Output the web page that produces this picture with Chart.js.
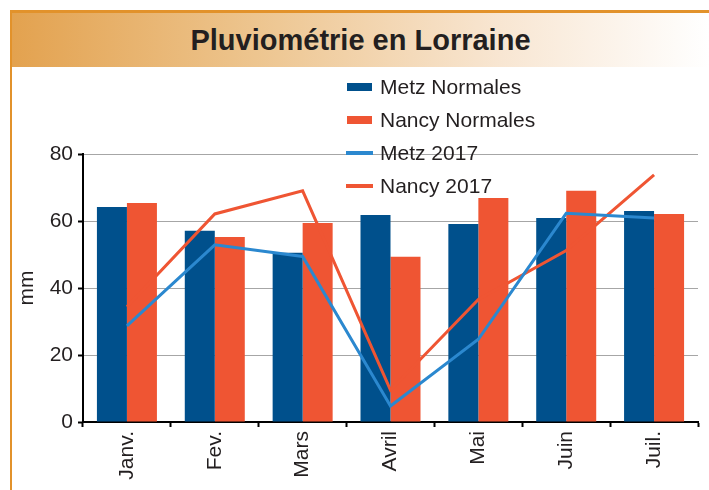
<!DOCTYPE html>
<html>
<head>
<meta charset="utf-8">
<script src="https://cdn.jsdelivr.net/npm/chart.js@4"></script>
<style>
  html, body { margin: 0; padding: 0; background: #fff; width: 709px; height: 490px; overflow: hidden; }
  #frame { position: absolute; left: 10px; top: 10px; width: 699px; height: 480px;
           border-top: 3px solid #E2922B; border-left: 2px solid #E2922B; box-sizing: border-box; }
  #title { position: absolute; left: 12px; top: 13px; width: 697px; height: 54px;
           background: linear-gradient(to right, #E3A24F 0%, #EDC58F 35%, #F8E6D2 70%, #FFFFFF 100%);
           font-family: "Liberation Sans", Arial, sans-serif; font-weight: bold; font-size: 29px;
           color: #231F20; text-align: center; line-height: 54px; }
  #c { position: absolute; left: 0; top: 0; }
</style>
</head>
<body>
<div id="frame"></div>
<div id="title">Pluviométrie en Lorraine</div>
<canvas id="c" width="709" height="490"></canvas>
<script>
const categories = ['Janv.', 'Fev.', 'Mars', 'Avril', 'Mai', 'Juin', 'Juil.'];
const metzNormales  = [64.2, 57.1, 50.5, 61.8, 59.1, 60.9, 63.0];
const nancyNormales = [65.4, 55.2, 59.4, 49.3, 66.9, 69.0, 62.1];
const metz2017      = [28.7, 52.9, 49.4, 4.8, 24.7, 62.3, 60.9];
const nancy2017     = [34.4, 62.1, 69.0, 9.5, 36.6, 51.2, 73.8];
const yTicks = [0, 20, 40, 60, 80];

const C_METZ = '#00508C', C_NANCY = '#EF5533', C_METZ_L = '#2B88CF', C_NANCY_L = '#EF5533';
const TXT = '#231F20';
const FONT = 'Liberation Sans, Arial, sans-serif';

const legendPlugin = {
  id: 'customLegend',
  afterDraw(chart) {
    const ctx = chart.ctx;
    ctx.save();
    const x0 = 347, xt = 380, rows = [87, 120, 153, 186];
    chart.data.datasets.forEach((ds) => {
      const y = rows[ds.legendIndex];
      if (ds.type === 'line') {
        ctx.fillStyle = ds.borderColor;
        ctx.fillRect(x0 - 1, y - 2, 27, 4);
      } else {
        ctx.fillStyle = ds.backgroundColor;
        ctx.fillRect(x0, y - 4, 25, 8);
      }
      ctx.fillStyle = TXT;
      ctx.font = '21px ' + FONT;
      ctx.textBaseline = 'middle';
      ctx.textAlign = 'left';
      ctx.fillText(ds.label, xt, y + 1);
    });
    ctx.restore();
  }
};

new Chart(document.getElementById('c'), {
  type: 'bar',
  data: {
    labels: categories,
    datasets: [
      { type: 'line', label: 'Metz 2017', data: metz2017, borderColor: C_METZ_L, backgroundColor: C_METZ_L,
        borderWidth: 3, pointRadius: 0, tension: 0, order: 0, legendIndex: 2 },
      { type: 'line', label: 'Nancy 2017', data: nancy2017, borderColor: C_NANCY_L, backgroundColor: C_NANCY_L,
        borderWidth: 3, pointRadius: 0, tension: 0, order: 1, legendIndex: 3 },
      { label: 'Metz Normales', data: metzNormales, backgroundColor: C_METZ, order: 2, legendIndex: 0,
        barPercentage: 1, categoryPercentage: 0.683 },
      { label: 'Nancy Normales', data: nancyNormales, backgroundColor: C_NANCY, order: 2, legendIndex: 1,
        barPercentage: 1, categoryPercentage: 0.683 }
    ]
  },
  options: {
    responsive: false,
    animation: false,
    devicePixelRatio: 1,
    layout: { padding: { left: 10, top: 154, right: 11, bottom: 0 } },
    plugins: { legend: { display: false }, tooltip: { enabled: false }, title: { display: false } },
    scales: {
      x: {
        grid: { drawOnChartArea: false, tickLength: 5, tickColor: '#000', tickWidth: 2, offset: true },
        border: { color: '#000', width: 2 },
        ticks: { color: TXT, font: { family: FONT, size: 21 }, minRotation: 90, maxRotation: 90, padding: 4, autoSkip: false },
        afterFit(scale) { scale.height = 68; }
      },
      y: {
        min: 0, max: 80,
        afterBuildTicks(scale) { scale.ticks = yTicks.map(v => ({ value: v })); },
        grid: { color: '#A6A6A6', lineWidth: 1, tickLength: 5, tickColor: '#000', tickWidth: 2 },
        border: { color: '#000', width: 2 },
        ticks: { color: TXT, font: { family: FONT, size: 21 }, padding: 5 },
        title: { display: true, text: 'mm', color: TXT, font: { family: FONT, size: 21 }, padding: { top: 5, bottom: 0 } },
        afterFit(scale) { scale.width = 73; }
      }
    }
  },
  plugins: [legendPlugin]
});
</script>
</body>
</html>
